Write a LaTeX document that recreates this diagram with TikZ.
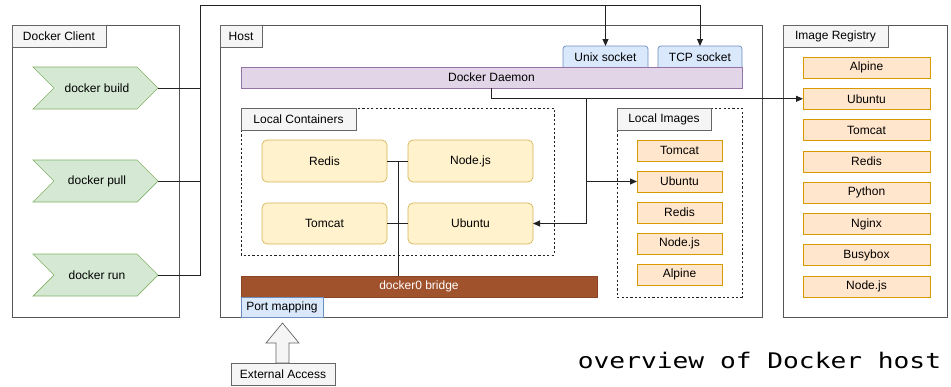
\documentclass[tikz,border=0pt]{standalone}
\usepackage{fontspec}
\setmainfont{Liberation Sans}
\newfontfamily\capfont{DejaVu Sans Mono}
\usetikzlibrary{arrows.meta}
\definecolor{grnF}{HTML}{D5E8D4}\definecolor{grnD}{HTML}{82B366}
\definecolor{bluF}{HTML}{DAE8FC}\definecolor{bluD}{HTML}{6C8EBF}
\definecolor{purF}{HTML}{E1D5E7}\definecolor{purD}{HTML}{9673A6}
\definecolor{yelF}{HTML}{FFF2CC}\definecolor{yelD}{HTML}{D6B656}
\definecolor{orgF}{HTML}{FFE6CC}\definecolor{orgD}{HTML}{D79B00}
\definecolor{labF}{HTML}{F5F5F5}\definecolor{labD}{HTML}{666666}
\definecolor{brgF}{HTML}{A0522D}\definecolor{brgD}{HTML}{8A4526}
\definecolor{panD}{HTML}{555555}
\definecolor{lnC}{HTML}{222222}
\tikzset{
  x=1pt, y=-1pt,
  every node/.style={font=\fontsize{12}{14}\selectfont, inner sep=0pt, outer sep=0pt},
  panel/.style={draw=panD, line width=0.9pt},
  lab/.style={draw=labD, fill=labF, line width=0.7pt},
  chev/.style={draw=grnD, fill=grnF, line width=0.7pt},
  sock/.style={draw=bluD, fill=bluF, line width=0.7pt, rounded corners=3pt},
  cont/.style={draw=yelD, fill=yelF, line width=0.7pt, rounded corners=5pt},
  img/.style={draw=orgD, fill=orgF, line width=0.7pt},
  dotbox/.style={draw=lnC, line width=0.8pt, dash pattern=on 2.2pt off 2.2pt},
  conn/.style={draw=lnC, line width=1pt},
  arr/.style={conn, -{Triangle[length=7pt,width=6pt]}},
}
\newcommand{\bx}[5]{\node[#1, minimum width={#4-#2}, minimum height={#5-#3}] (#1X) at ({(#2+#4)/2},{(#3+#5)/2}) {};}
\begin{document}
\begin{tikzpicture}
\useasboundingbox (0,0) rectangle (951,386);
% panels
\draw[panel] (12,25) rectangle (179,317);
\draw[panel] (220,25) rectangle (762,317);
\draw[panel] (783,25) rectangle (947,317);
\node[lab, minimum width=94, minimum height=22] (clientlab) at (59,36) {Docker Client};
\node[lab, minimum width=42, minimum height=22] (hostlab) at (241,36) {Host};
\node[lab, minimum width=105, minimum height=22] (reglab) at (835.5,36.5) {Image Registry};

% chevrons
\draw[chev] (33,67) -- (137,67) -- (158,88) -- (137,109) -- (33,109) -- (54,88) -- cycle;
\node (build) at (97,88) {docker build};
\coordinate (buildtip) at (158,88);
\draw[chev] (33,160) -- (137,160) -- (158,181) -- (137,202) -- (33,202) -- (54,181) -- cycle;
\node (pull) at (97,181) {docker pull};
\coordinate (pulltip) at (158,181);
\draw[chev] (33,254) -- (137,254) -- (158,275) -- (137,296) -- (33,296) -- (54,275) -- cycle;
\node (run) at (97,275) {docker run};
\coordinate (runtip) at (158,275);

% sockets and daemon
\node[sock, minimum width=85, minimum height=24] (unix) at (605.5,58) {\raisebox{1.5pt}{Unix socket}};
\node[sock, minimum width=84, minimum height=24] (tcp) at (700,58) {\raisebox{1.5pt}{TCP socket}};
\node[draw=purD, fill=purF, line width=0.7pt, minimum width=501, minimum height=21] (daemon) at (491.5,77.5) {Docker Daemon};

% local containers
\draw[dotbox] (241,108) rectangle (554,255);
\node[lab, minimum width=115, minimum height=22] (contlab) at (298.5,119) {Local Containers};
\node[cont, minimum width=125, minimum height=42] (credis) at (324.5,161) {Redis};
\node[cont, minimum width=125, minimum height=42] (cnode) at (470.5,161) {Node.js};
\node[cont, minimum width=125, minimum height=41] (ctomcat) at (324.5,223.5) {Tomcat};
\node[cont, minimum width=125, minimum height=41] (cubuntu) at (470.5,223.5) {Ubuntu};

% bridge and port mapping
\node[draw=brgD, fill=brgF, line width=0.6pt, minimum width=356, minimum height=21, text=white] (bridge) at (419,286.5) {docker0 bridge};
\node[draw=bluD, fill=bluF, line width=0.6pt, minimum width=82, minimum height=20] (port) at (282,307) {Port mapping};

% local images
\draw[dotbox] (617,108) rectangle (742,297);
\node[lab, minimum width=94, minimum height=22] (imglab) at (664,119) {Local Images};
\foreach \t/\n [count=\i from 0] in {Tomcat/itomcat, Ubuntu/iubuntu, Redis/iredis, Node.js/inode, Alpine/ialpine}
  \node[img, minimum width=85, minimum height=21] (\n) at (679.5,{150.5+31*\i}) {\t};

% registry
\foreach \t/\n [count=\i from 0] in {Alpine/ralpine, Ubuntu/rubuntu, Tomcat/rtomcat, Redis/rredis, Python/rpython, Nginx/rnginx, Busybox/rbusybox, Node.js/rnode}
  \node[img, minimum width=127, minimum height=21] (\n) at (866.5,{67.5+31.3*\i}) {\t};

% external access
\node[lab, minimum width=104, minimum height=22] (ext) at (283,374) {External Access};
\draw[draw=labD, fill=labF, line width=0.7pt] (276,363) -- (276,343) -- (266,343) -- (282.5,323) -- (299,343) -- (289,343) -- (289,363) -- cycle;

% client bus
\coordinate (bustop) at (200,5);
\coordinate (busbot) at (200,275);
\draw[conn] (buildtip) -- (buildtip -| bustop);
\draw[conn] (pulltip) -- (pulltip -| bustop);
\draw[conn] (runtip) -- (busbot) -- (bustop);
\draw[arr] (bustop) -| (tcp.north);
\draw[arr] (bustop -| unix.north) -- (unix.north);

% daemon connections
\coordinate (dd) at (491,88);
\coordinate (jn) at (586,98);
\draw[arr] (dd) |- (rubuntu.west);
\draw[arr] (jn) |- (cubuntu.east);
\draw[arr] (jn |- iubuntu.west) -- (iubuntu.west);

% container links
\coordinate (cj) at (398,161);
\draw[conn] (credis.east) -- (cnode.west);
\draw[conn] (ctomcat.east) -- (cubuntu.west);
\draw[conn] (cj) -- (cj |- bridge.north);

% caption
\node[font=\capfont\fontsize{21.5}{24}\selectfont, xscale=1.22, anchor=base] (cap) at (759.5,368) {overview of Docker host};
\end{tikzpicture}
\end{document}
